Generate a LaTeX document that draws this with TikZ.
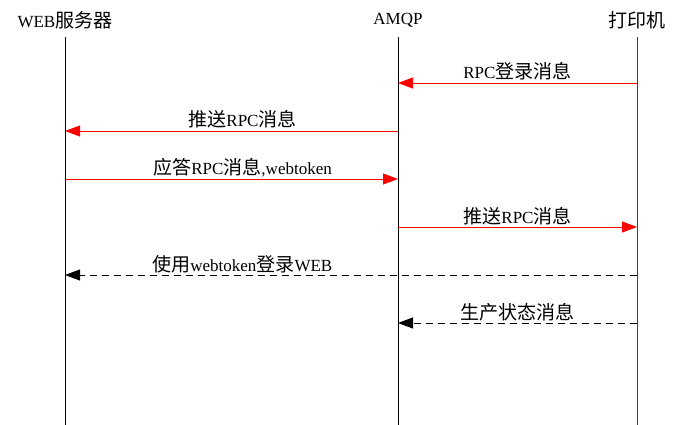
\documentclass[tikz,border=0pt]{standalone}
\usepackage{fontspec}
\setmainfont{Liberation Serif}
\newfontfamily\cjk{Noto Sans CJK SC}[Scale=1.12]
\usetikzlibrary{arrows.meta}
\newcommand\zh[1]{{\cjk #1}}
\tikzset{
  actor/.style={inner sep=0pt, font=\fontsize{17}{20}\selectfont},
  life/.style={line width=0.9pt, black},
  msg/.style={draw=red, line width=0.8pt, -{Triangle[length=15pt,width=11pt,fill=red]}},
  ret/.style={draw=black, line width=0.8pt, dash pattern=on 7pt off 5pt, -{Triangle[length=15pt,width=11pt,fill=black]}},
  lbl/.style={anchor=base, inner sep=0pt, font=\fontsize{17}{20}\selectfont}
}
\begin{document}
\begin{tikzpicture}[x=1pt,y=-1pt]
\useasboundingbox (0,0) rectangle (683,425);
% headers
\node[actor] (W) at (65,20) {WEB\zh{服务器}};
\node[actor] (A) at (398,20) {AMQP};
\node[actor] (P) at (637,20) {\zh{打印机}};
% lifeline ends
\coordinate (Wt) at (65,37);  \coordinate (Wb) at (65,425);
\coordinate (At) at (398,37); \coordinate (Ab) at (398,425);
\coordinate (Pt) at (637,37); \coordinate (Pb) at (637,425);
\draw[life] (Wt) -- (Wb);
\draw[life] (At) -- (Ab);
\draw[life, black!75] (Pt) -- (Pb);
% message levels
\foreach \i/\y in {1/83,2/131,3/179,4/227,5/275,6/323}{
  \coordinate (W\i) at (65,\y);
  \coordinate (A\i) at (398,\y);
  \coordinate (P\i) at (637,\y);
}
\draw[msg] (P1) -- (A1) node[lbl, midway, yshift=4pt] (m1) {RPC\zh{登录消息}};
\draw[msg] (A2) -- (W2) node[lbl, midway, yshift=4pt, xshift=11pt] (m2) {\zh{推送}RPC\zh{消息}};
\draw[msg] (W3) -- (A3) node[lbl, midway, yshift=4pt, xshift=11pt] (m3) {\zh{应答}RPC\zh{消息},webtoken};
\draw[msg] (A4) -- (P4) node[lbl, midway, yshift=4pt] (m4) {\zh{推送}RPC\zh{消息}};
\draw[ret] (P5) -- (W5) node[lbl, pos=0.69, yshift=4pt] (m5) {\zh{使用}webtoken\zh{登录}WEB};
\draw[ret] (P6) -- (A6) node[lbl, midway, yshift=4pt] (m6) {\zh{生产状态消息}};
\end{tikzpicture}
\end{document}
